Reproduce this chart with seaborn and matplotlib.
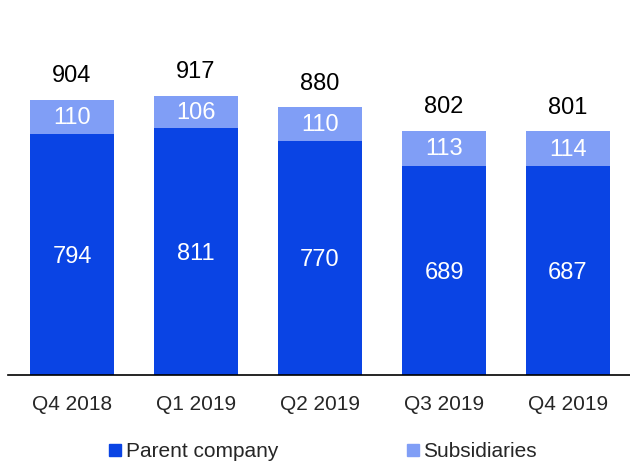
import matplotlib
matplotlib.use("Agg")
import matplotlib.pyplot as plt
import seaborn as sns
import pandas as pd
from matplotlib.patches import Patch

# Data
quarters = ["Q4 2018", "Q1 2019", "Q2 2019", "Q3 2019", "Q4 2019"]
parent = [794, 811, 770, 689, 687]
subsidiaries = [110, 106, 110, 113, 114]
totals = [p + s for p, s in zip(parent, subsidiaries)]

dark_blue = "#0A44E4"
light_blue = "#809EF6"

sns.set_style("white")
plt.rcParams["font.family"] = ["Liberation Sans", "DejaVu Sans"]

df = pd.DataFrame({"Quarter": quarters, "Parent": parent, "Subs": subsidiaries, "Total": totals})

fig = plt.figure(figsize=(6.3, 4.62), dpi=100)
ax = fig.add_axes([0.012, 0.188, 0.988, 0.812])

# stacked bars: total in light blue, parent company drawn over it
sns.barplot(data=df, x="Quarter", y="Total", color=light_blue, width=0.67,
            saturation=1, linewidth=0, ax=ax)
sns.barplot(data=df, x="Quarter", y="Parent", color=dark_blue, width=0.67,
            saturation=1, linewidth=0, ax=ax)

for i, row in df.iterrows():
    ax.text(i, row["Parent"] / 2 - 8, str(row["Parent"]), ha="center", va="center",
            color="white", fontsize=17)
    ax.text(i, row["Parent"] + row["Subs"] / 2 - 3, str(row["Subs"]), ha="center",
            va="center", color="white", fontsize=17)
    ax.text(i, row["Total"] + 78, str(row["Total"]), ha="center", va="center",
            color="black", fontsize=17)

ax.set_xlim(-0.52, 4.5)
ax.set_ylim(0, 1233)
ax.set_xlabel("")
ax.set_ylabel("")
ax.set_yticks([])
ax.tick_params(axis="x", length=0, labelsize=15, pad=14)
for side in ["top", "right", "left"]:
    ax.spines[side].set_visible(False)
ax.spines["bottom"].set_color("black")
ax.spines["bottom"].set_linewidth(1.2)

handles = [Patch(color=dark_blue, label="Parent company"),
           Patch(color=light_blue, label="Subsidiaries")]
fig.legend(handles=handles, loc="center", bbox_to_anchor=(0.513, 0.022), ncol=2,
           frameon=False, fontsize=15, handlelength=0.58, handleheight=0.58,
           handletextpad=0.2, columnspacing=6.2, borderaxespad=0, borderpad=0)

# title is cropped at the top edge of the original image
fig.text(144 / 630, 1 + 6 / 462, "Employees", fontsize=17, fontweight="bold",
         va="baseline", ha="left")

fig.savefig("out.png", dpi=100)
